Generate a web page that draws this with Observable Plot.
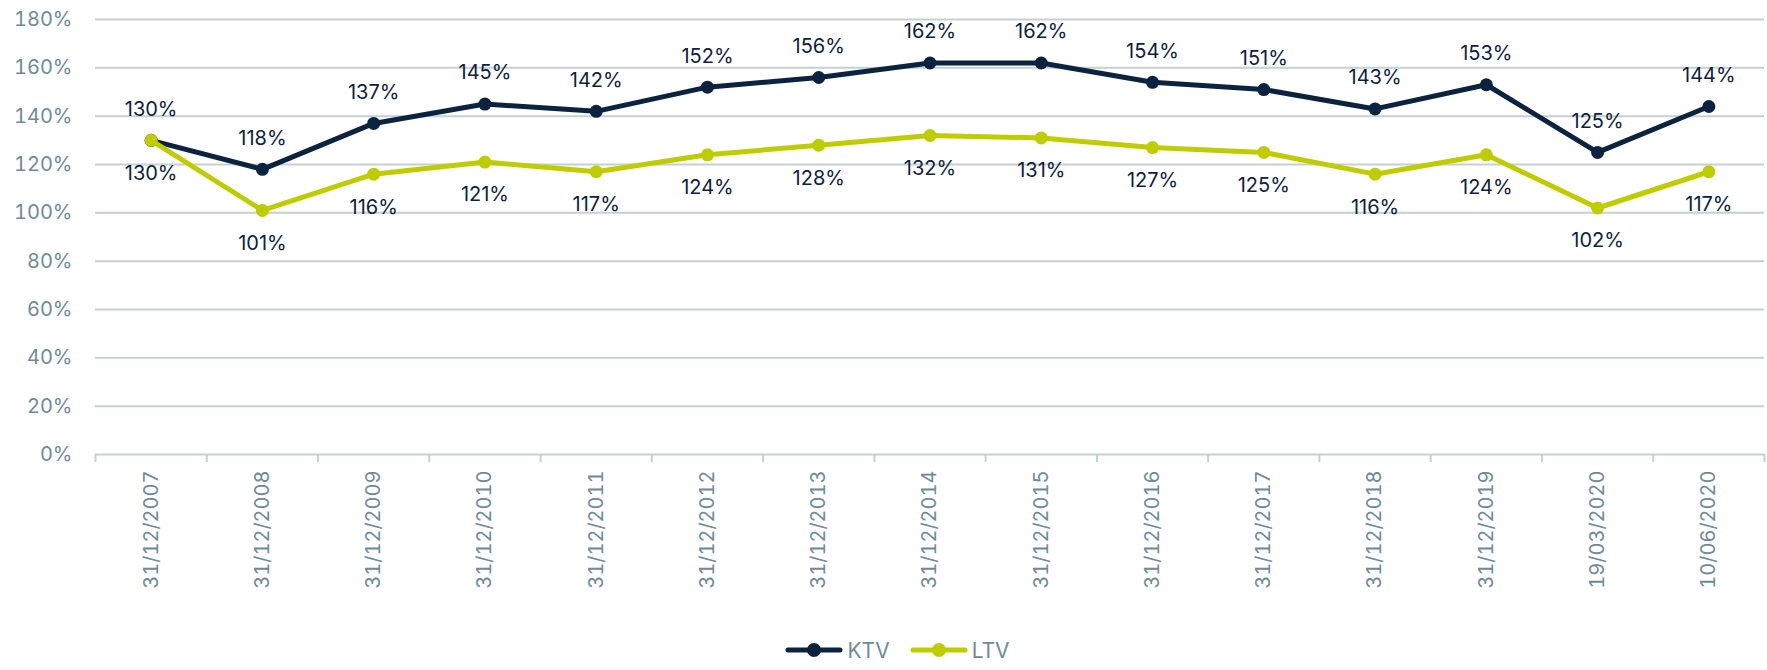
<!DOCTYPE html>
<html>
<head>
<meta charset="utf-8">
<script src="https://cdn.jsdelivr.net/npm/d3@7"></script>
<script src="https://cdn.jsdelivr.net/npm/@observablehq/plot@0.6"></script>
<style>
  html, body { margin: 0; padding: 0; background: #fff; }
  body { width: 1767px; height: 670px; overflow: hidden; font-family: Inter, "Noto Sans", sans-serif; }
  #legend { display: flex; justify-content: center; align-items: center; height: 40px; padding-left: 28px; gap: 20px; color: #6e8b9a; font-size: 21px; }
  .item { display: flex; align-items: center; gap: 4px; }
</style>
</head>
<body>
<div id="chart"></div>
<div id="legend"></div>
<script>
const dates = ["31/12/2007","31/12/2008","31/12/2009","31/12/2010","31/12/2011","31/12/2012","31/12/2013","31/12/2014","31/12/2015","31/12/2016","31/12/2017","31/12/2018","31/12/2019","19/03/2020","10/06/2020"];
const ktv = [130,118,137,145,142,152,156,162,162,154,151,143,153,125,144];
const ltv = [130,101,116,121,117,124,128,132,131,127,125,116,124,102,117];
const series = ["KTV","LTV"];
const colors = ["#0c2340","#bfcd00"];
const yTicks = [0,20,40,60,80,100,120,140,160,180];

const idx = dates.map((d, i) => i);
const bounds = d3.range(dates.length + 1).map(i => i - 0.5);
const kData = dates.map((d, i) => ({i, date: d, s: "KTV", v: ktv[i]}));
const lData = dates.map((d, i) => ({i, date: d, s: "LTV", v: ltv[i]}));

const axisColor = "#6e8b9a";
const gridColor = "#c5d1d1";

const chart = Plot.plot({
  width: 1767,
  height: 630,
  marginTop: 19,
  marginBottom: 176,
  marginLeft: 95,
  marginRight: 3,
  style: {fontFamily: "Inter, 'Noto Sans', sans-serif", fontSize: "20px", background: "white", overflow: "visible"},
  x: {type: "linear", domain: [-0.5, dates.length - 0.5], label: null},
  y: {domain: [0, 180], label: null},
  color: {domain: series, range: colors},
  marks: [
    Plot.gridY(yTicks.filter(t => t > 0), {stroke: gridColor, strokeWidth: 2, strokeOpacity: 1}),
    Plot.axisY(yTicks, {tickSize: 0, tickPadding: 23, tickFormat: d => d + "%", fill: axisColor, fontSize: 20, label: null}),
    Plot.ruleY([0], {stroke: gridColor, strokeWidth: 2}),
    Plot.axisX(bounds, {tickSize: 8, stroke: gridColor, strokeWidth: 2, tickFormat: () => "", label: null}),
    Plot.axisX(idx, {tickSize: 0, tickPadding: 16, tickRotate: -90, tickFormat: i => dates[i], fill: axisColor, fontSize: 20, label: null}),
    Plot.line(kData, {x: "i", y: "v", stroke: colors[0], strokeWidth: 5}),
    Plot.dot(kData, {x: "i", y: "v", fill: colors[0], r: 6.5}),
    Plot.line(lData, {x: "i", y: "v", stroke: colors[1], strokeWidth: 5}),
    Plot.dot(lData, {x: "i", y: "v", fill: colors[1], r: 6.5}),
    Plot.text(kData, {x: "i", y: "v", text: d => d.v + "%", dy: -31, fill: colors[0], fontSize: 20}),
    Plot.text(lData, {x: "i", y: "v", text: d => d.v + "%", dy: 33, fill: colors[0], fontSize: 20})
  ]
});
document.getElementById("chart").appendChild(chart);

const legend = document.getElementById("legend");
series.forEach((s, k) => {
  const item = document.createElement("div");
  item.className = "item";
  item.innerHTML = `<svg width="58" height="16"><line x1="3" y1="8" x2="55" y2="8" stroke="${colors[k]}" stroke-width="5" stroke-linecap="round"/><circle cx="29" cy="8" r="7" fill="${colors[k]}"/></svg><span>${s}</span>`;
  legend.appendChild(item);
});
</script>
</body>
</html>
